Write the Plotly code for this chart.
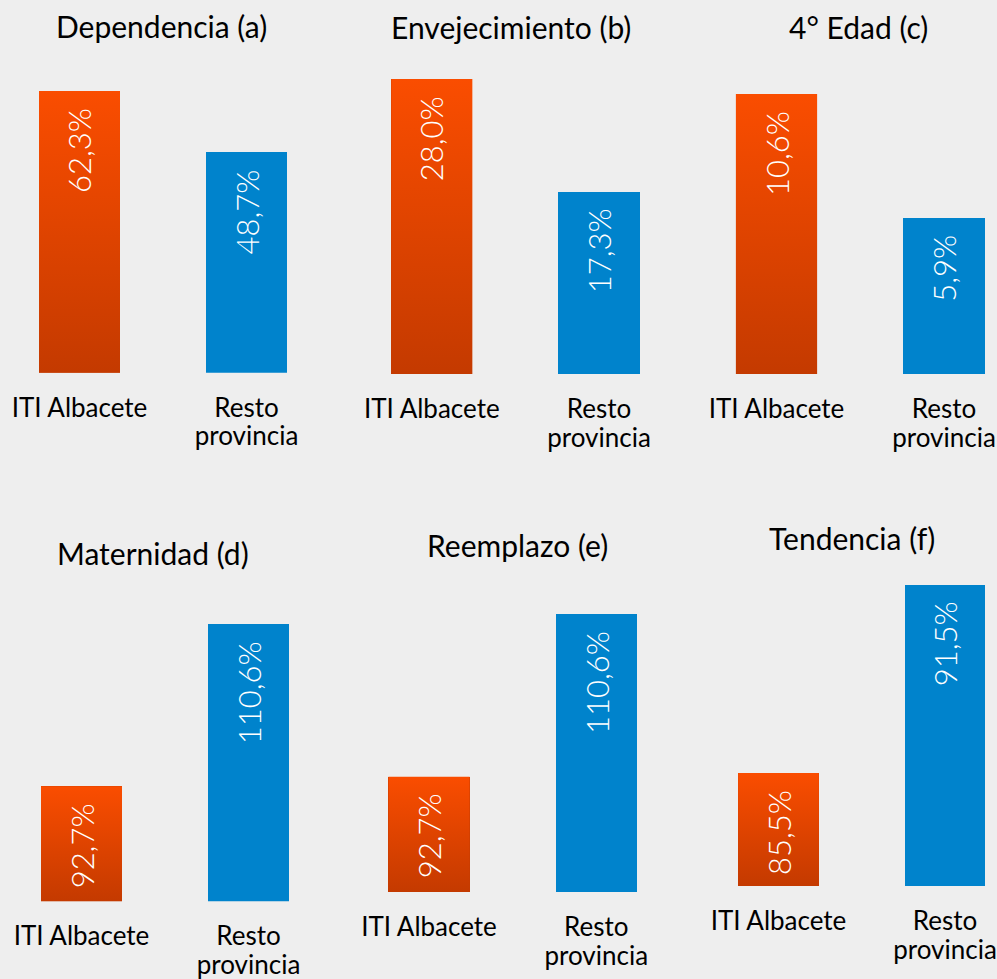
import plotly.graph_objects as go

# --- data -------------------------------------------------------------
categories = ["ITI Albacete", "Resto<br>provincia"]
titles = ["Dependencia (a)", "Envejecimiento (b)", "4° Edad (c)",
          "Maternidad (d)", "Reemplazo (e)", "Tendencia (f)"]
iti_values = [62.3, 28.0, 10.6, 92.7, 92.7, 85.5]
resto_values = [48.7, 17.3, 5.9, 110.6, 110.6, 91.5]

# --- layout helpers (pixel positions of each panel in a 997x979 page) --
W, H = 997, 979
FONT = "Lato"
ORANGE_TOP, ORANGE_BOTTOM = "#fa4d00", "#c43a00"
BLUE = "#0083cc"
BG = "#eeeeee"
BAR_W = 0.485

# x domain px, bar centres px, y domain px (top, bottom), y range, title centre px
panels = [
    dict(xd=(0, 330), c=(79.5, 246.5), yd=(60, 372.7), yr=(0, 69.15), t=(161.5, 26)),
    dict(xd=(338, 668), c=(431.8, 599), yd=(60, 374), yr=(0, 29.8), t=(511, 27)),
    dict(xd=(680, 997), c=(776.5, 944), yd=(60, 374), yr=(0, 11.89), t=(858, 27)),
    dict(xd=(0, 330), c=(81.5, 248.5), yd=(570, 901.3), yr=(80, 116.6), t=(153, 553)),
    dict(xd=(338, 668), c=(429, 596.3), yd=(570, 892), yr=(80, 115.47), t=(517, 545)),
    dict(xd=(680, 997), c=(778.5, 945), yd=(570, 886), yr=(81.9, 91.97), t=(851.5, 538)),
]


def fmt(v):
    return f"{v:.1f}".replace(".", ",") + "%"


def tick_label(text):
    # larger glyphs than the base tick font, so the two lines sit closer
    return "<br>".join(f"<span style='font-size:26px'>{part}</span>"
                       for part in text.split("<br>"))


ticktext = [tick_label(c) for c in categories]

fig = go.Figure()
annotations = []
layout_axes = {}

for k, p in enumerate(panels):
    n = k + 1
    xa, ya = f"x{n}", f"y{n}"
    iti, resto = iti_values[k], resto_values[k]
    floor = p["yr"][0]

    # blue + base orange bars
    fig.add_trace(go.Bar(x=[0, 1], y=[iti, resto], width=BAR_W,
                         marker=dict(color=[ORANGE_BOTTOM, BLUE], line_width=0),
                         xaxis=xa, yaxis=ya, showlegend=False, hoverinfo="skip"))
    # gradient overlay on the orange bar
    fig.add_trace(go.Scatter(
        x=[-BAR_W / 2, BAR_W / 2, BAR_W / 2, -BAR_W / 2, -BAR_W / 2],
        y=[floor, floor, iti, iti, floor],
        mode="lines", line=dict(width=0), fill="toself",
        fillgradient=dict(type="vertical", start=floor, stop=iti,
                          colorscale=[[0, ORANGE_BOTTOM], [1, ORANGE_TOP]]),
        xaxis=xa, yaxis=ya, showlegend=False, hoverinfo="skip"))

    # value labels inside the bars
    for i, v in enumerate([iti, resto]):
        annotations.append(dict(
            x=i, y=v, xref=xa, yref=ya, text=fmt(v), showarrow=False,
            textangle=-90, yanchor="top", xanchor="center", yshift=-15,
            font=dict(family=FONT, size=31, color="white", weight=300)))

    # panel title
    annotations.append(dict(
        x=p["t"][0] / W, y=1 - p["t"][1] / H, xref="paper", yref="paper",
        text=titles[k], showarrow=False, xanchor="center", yanchor="middle",
        font=dict(family=FONT, size=30, color="black")))

    s = p["c"][1] - p["c"][0]
    xr = [(p["xd"][0] - p["c"][0]) / s, (p["xd"][1] - p["c"][0]) / s]
    key = "" if n == 1 else str(n)
    layout_axes[f"xaxis{key}"] = dict(
        domain=[p["xd"][0] / W, p["xd"][1] / W], range=xr, anchor=ya,
        tickvals=[0, 1], ticktext=ticktext, showgrid=False, zeroline=False,
        showline=False, ticks="", ticklabelstandoff=21, automargin=False,
        tickfont=dict(family=FONT, size=22, color="black"), fixedrange=True)
    layout_axes[f"yaxis{key}"] = dict(
        domain=[1 - p["yd"][1] / H, 1 - p["yd"][0] / H], range=list(p["yr"]),
        anchor=xa, visible=False, showgrid=False, zeroline=False,
        automargin=False, fixedrange=True)

fig.update_layout(
    width=W, height=H, margin=dict(l=0, r=0, t=0, b=0, autoexpand=False),
    paper_bgcolor=BG, plot_bgcolor=BG, bargap=0,
    annotations=annotations, showlegend=False, **layout_axes)

fig.write_html("out.html", config={"displayModeBar": False},
               post_script="document.body.style.margin='0';"
                           "document.body.style.background='%s';" % BG)
